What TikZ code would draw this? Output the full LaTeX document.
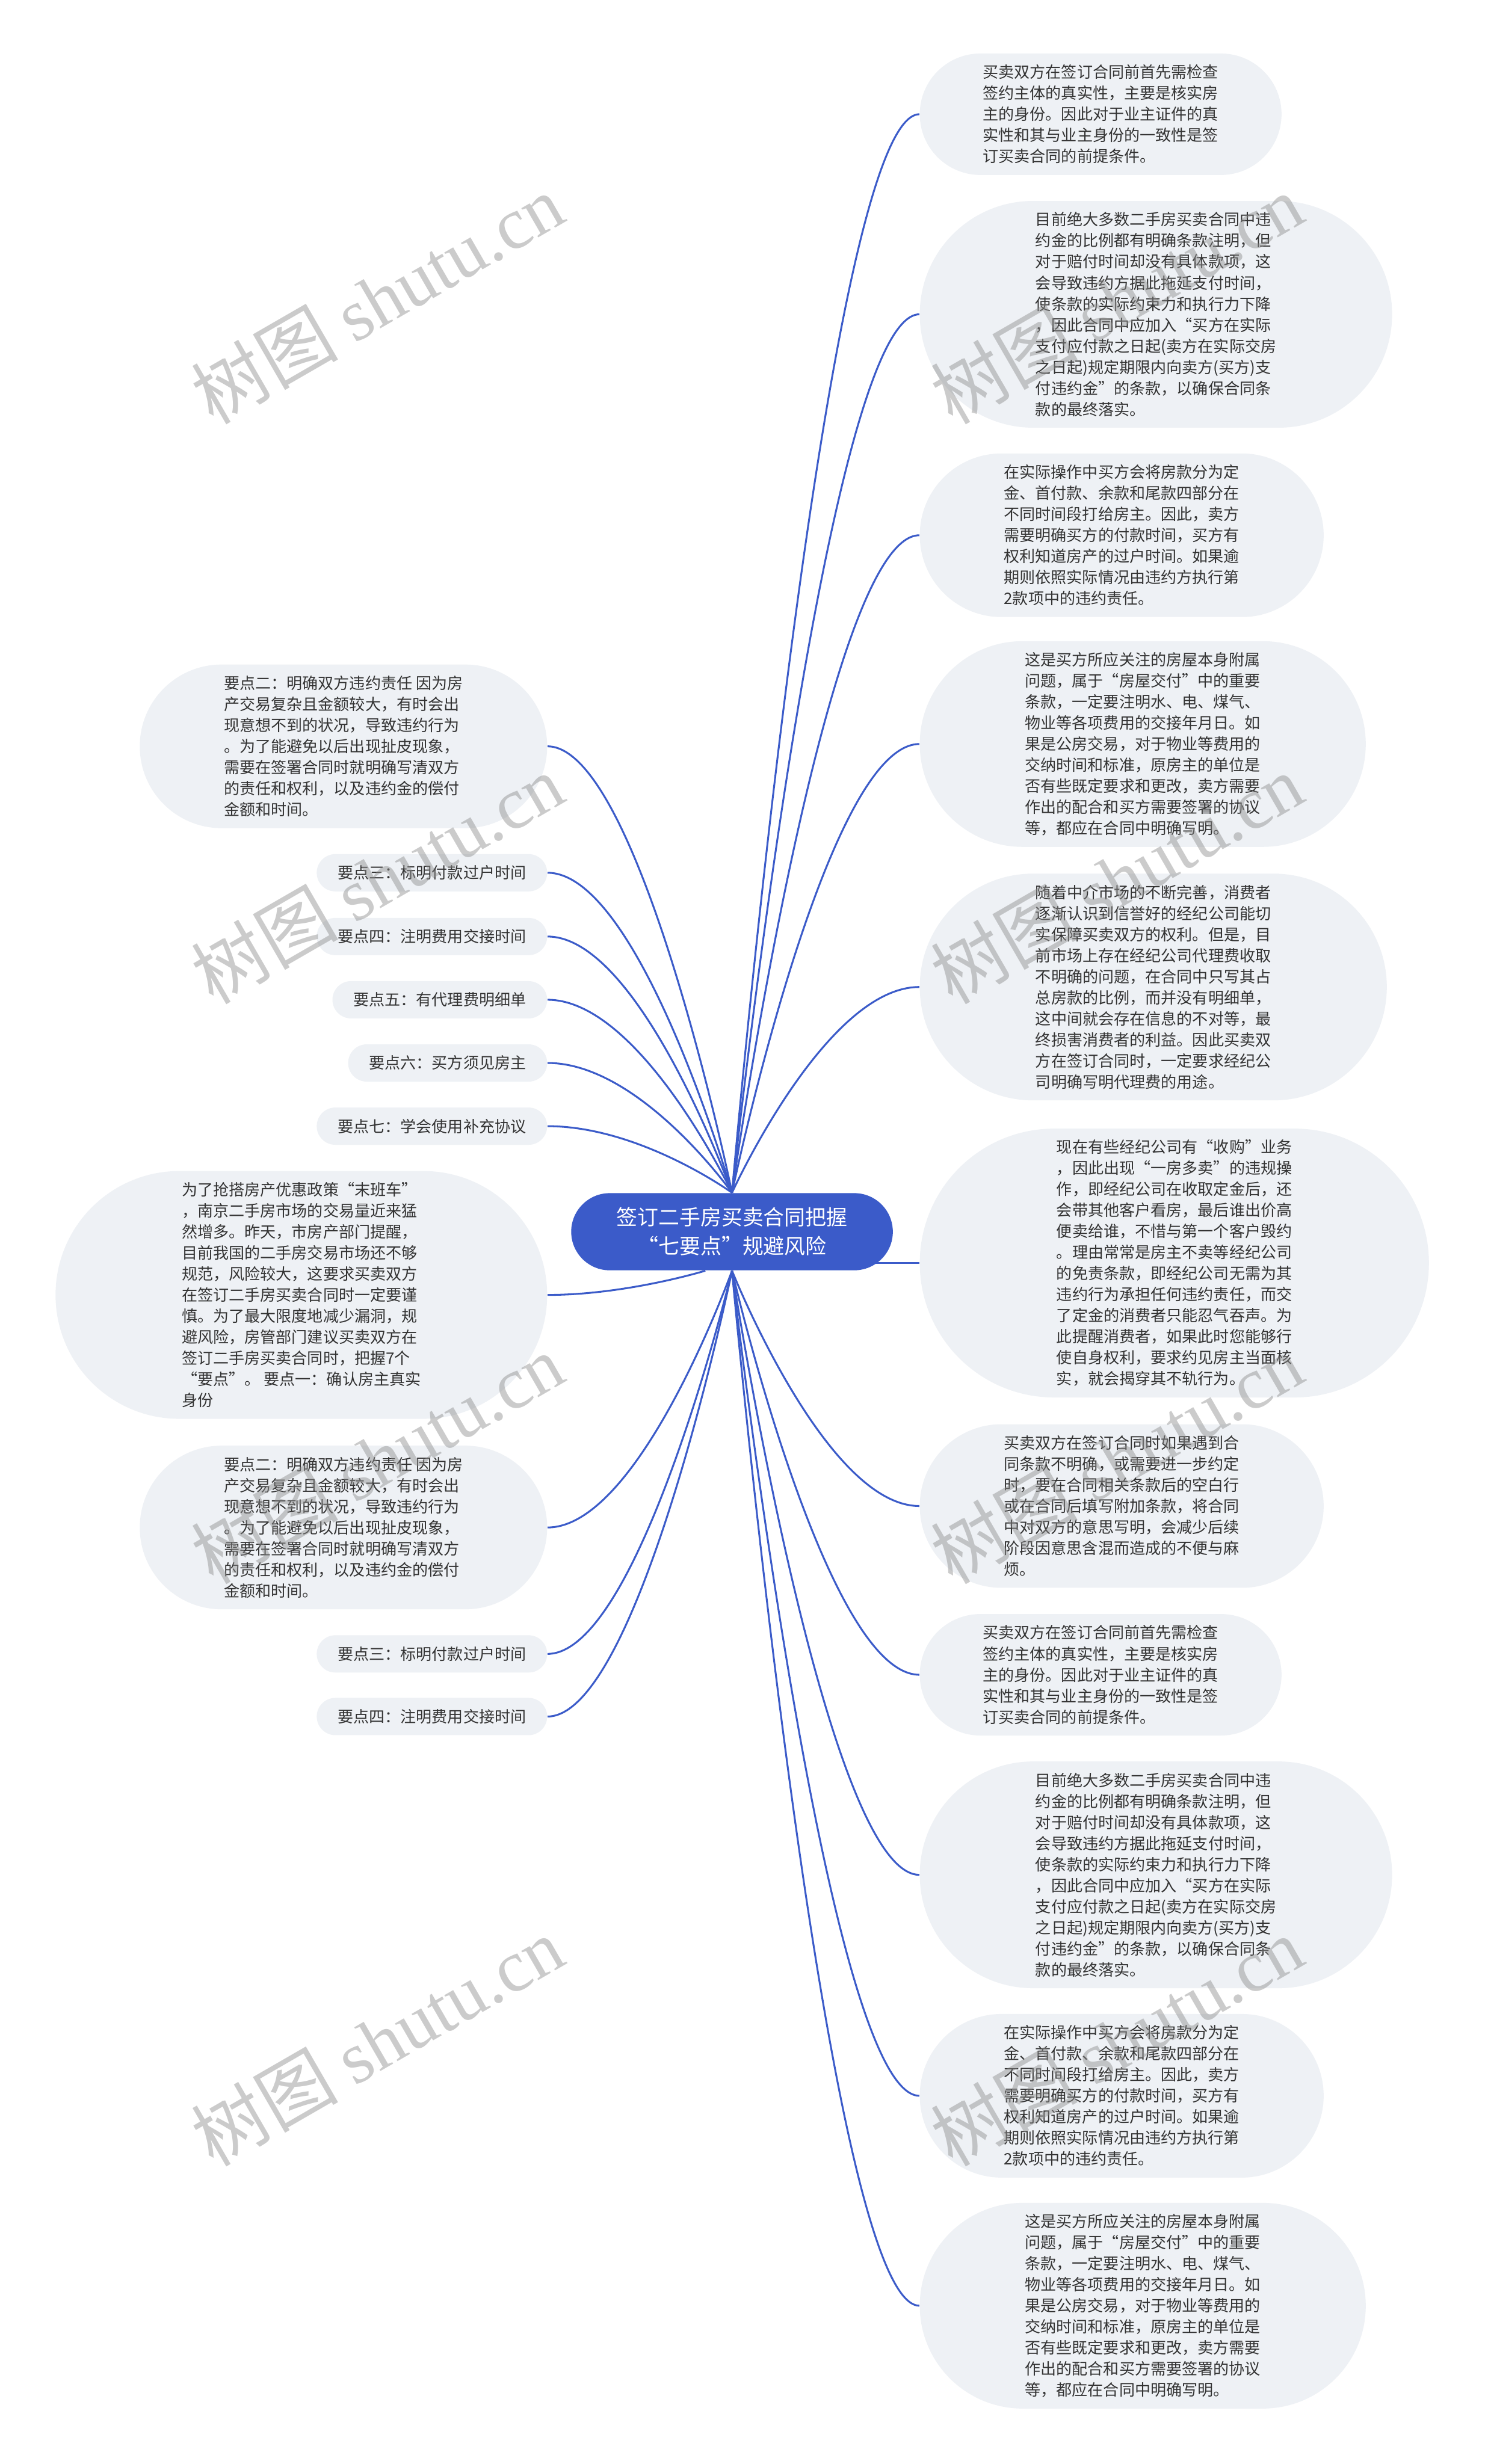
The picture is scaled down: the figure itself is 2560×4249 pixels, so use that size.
\documentclass[tikz,border=0pt]{standalone}
\usepackage{fontspec}
\setmainfont{Noto Sans CJK SC}
\newfontfamily\wmlatin{Liberation Serif}
\usetikzlibrary{positioning, calc}

\definecolor{hub}{HTML}{3B5BC9}
\definecolor{bubblefill}{HTML}{EEF1F5}
\definecolor{ink}{HTML}{333333}

\pgfdeclarelayer{paper}
\pgfdeclarelayer{links}
\pgfsetlayers{paper,links,main}

% texts that appear twice
\newcommand{\TxtCheck}{买卖双方在签订合同前首先需检查\\签约主体的真实性，主要是核实房\\主的身份。因此对于业主证件的真\\实性和其与业主身份的一致性是签\\订买卖合同的前提条件。}
\newcommand{\TxtPenalty}{目前绝大多数二手房买卖合同中违\\约金的比例都有明确条款注明，但\\对于赔付时间却没有具体款项，这\\会导致违约方据此拖延支付时间，\\使条款的实际约束力和执行力下降\\，因此合同中应加入“买方在实际\\支付应付款之日起(卖方在实际交房\\之日起)规定期限内向卖方(买方)支\\付违约金”的条款，以确保合同条\\款的最终落实。}
\newcommand{\TxtPay}{在实际操作中买方会将房款分为定\\金、首付款、余款和尾款四部分在\\不同时间段打给房主。因此，卖方\\需要明确买方的付款时间，买方有\\权利知道房产的过户时间。如果逾\\期则依照实际情况由违约方执行第\\2款项中的违约责任。}
\newcommand{\TxtHandover}{这是买方所应关注的房屋本身附属\\问题，属于“房屋交付”中的重要\\条款，一定要注明水、电、煤气、\\物业等各项费用的交接年月日。如\\果是公房交易，对于物业等费用的\\交纳时间和标准，原房主的单位是\\否有些既定要求和更改，卖方需要\\作出的配合和买方需要签署的协议\\等，都应在合同中明确写明。}
\newcommand{\TxtDuty}{要点二：明确双方违约责任 因为房\\产交易复杂且金额较大，有时会出\\现意想不到的状况，导致违约行为\\。为了能避免以后出现扯皮现象，\\需要在签署合同时就明确写清双方\\的责任和权利，以及违约金的偿付\\金额和时间。}

\begin{document}
\begin{tikzpicture}[
    x=0.01cm, y=-0.01cm,
    topic/.style={rectangle, fill=hub, text=white, align=center,
        font=\fontsize{10.3pt}{14.2pt}\selectfont, rounded corners=0.665cm,
        minimum height=1.33cm, inner xsep=0.78cm, inner ysep=0pt},
    % #1 = number of text lines
    bubble/.style={rectangle, fill=bubblefill, text=ink, align=left,
        font=\fontsize{7.7pt}{10.33pt}\selectfont,
        rounded corners=(18.15*#1+14)*0.01cm,
        minimum height=(36.3*#1+28)*0.01cm,
        inner xsep=(18.15*#1+18)*0.01cm, inner ysep=0pt},
    link/.style={draw=hub, line width=0.9pt},
    wmark/.style={rotate=30, text=black!45, opacity=0.45,
        font=\fontsize{36pt}{40pt}\selectfont}
]
\begin{pgfonlayer}{paper}
\useasboundingbox[fill=white] (0,0) rectangle (2560,4249);
\end{pgfonlayer}

\node[topic] (C) at (1262,2124) {签订二手房买卖合同把握\\“七要点”规避风险};

% right side
\node[bubble=5, anchor=west] (r1) at (1585,197) {\TxtCheck};
\node[bubble=10, anchor=west] (r2) at (1585,542) {\TxtPenalty};
\node[bubble=7, anchor=west] (r3) at (1585,923) {\TxtPay};
\node[bubble=9, anchor=west] (r4) at (1585,1283) {\TxtHandover};
\node[bubble=10, anchor=west] (r5) at (1585,1702) {随着中介市场的不断完善，消费者\\逐渐认识到信誉好的经纪公司能切\\实保障买卖双方的权利。但是，目\\前市场上存在经纪公司代理费收取\\不明确的问题，在合同中只写其占\\总房款的比例，而并没有明细单，\\这中间就会存在信息的不对等，最\\终损害消费者的利益。因此买卖双\\方在签订合同时，一定要求经纪公\\司明确写明代理费的用途。};
\node[bubble=12, anchor=west] (r6) at (1585,2178) {现在有些经纪公司有“收购”业务\\，因此出现“一房多卖”的违规操\\作，即经纪公司在收取定金后，还\\会带其他客户看房，最后谁出价高\\便卖给谁，不惜与第一个客户毁约\\。理由常常是房主不卖等经纪公司\\的免责条款，即经纪公司无需为其\\违约行为承担任何违约责任，而交\\了定金的消费者只能忍气吞声。为\\此提醒消费者，如果此时您能够行\\使自身权利，要求约见房主当面核\\实，就会揭穿其不轨行为。};
\node[bubble=7, anchor=west] (r7) at (1585,2597) {买卖双方在签订合同时如果遇到合\\同条款不明确，或需要进一步约定\\时，要在合同相关条款后的空白行\\或在合同后填写附加条款，将合同\\中对双方的意思写明，会减少后续\\阶段因意思含混而造成的不便与麻\\烦。};
\node[bubble=5, anchor=west] (r8) at (1585,2888) {\TxtCheck};
\node[bubble=10, anchor=west] (r9) at (1585,3233) {\TxtPenalty};
\node[bubble=7, anchor=west] (r10) at (1585,3614) {\TxtPay};
\node[bubble=9, anchor=west] (r11) at (1585,3976) {\TxtHandover};

% left side
\node[bubble=7, anchor=east] (l1) at (944,1287) {\TxtDuty};
\node[bubble=1, anchor=east] (l2) at (944,1505) {要点三：标明付款过户时间};
\node[bubble=1, anchor=east] (l3) at (944,1615) {要点四：注明费用交接时间};
\node[bubble=1, anchor=east] (l4) at (944,1724) {要点五：有代理费明细单};
\node[bubble=1, anchor=east] (l5) at (944,1833) {要点六：买方须见房主};
\node[bubble=1, anchor=east] (l6) at (944,1942) {要点七：学会使用补充协议};
\node[bubble=11, anchor=east] (l7) at (944,2233) {为了抢搭房产优惠政策“末班车”\\，南京二手房市场的交易量近来猛\\然增多。昨天，市房产部门提醒，\\目前我国的二手房交易市场还不够\\规范，风险较大，这要求买卖双方\\在签订二手房买卖合同时一定要谨\\慎。为了最大限度地减少漏洞，规\\避风险，房管部门建议买卖双方在\\签订二手房买卖合同时，把握7个\\“要点”。 要点一：确认房主真实\\身份};
\node[bubble=7, anchor=east] (l8) at (944,2634) {\TxtDuty};
\node[bubble=1, anchor=east] (l9) at (944,2852) {要点三：标明付款过户时间};
\node[bubble=1, anchor=east] (l10) at (944,2960) {要点四：注明费用交接时间};

\coordinate (Cb) at ([xshift=-0.46cm]C.south);

\begin{pgfonlayer}{links}
\foreach \n in {r1,r2,r3,r4,r5}
  \draw[link] (\n.west) .. controls ($(\n.west)!.5!(C.north |- \n.west)$) and (C.north) .. (C.north);
\foreach \n in {r7,r8,r9,r10,r11}
  \draw[link] (\n.west) .. controls ($(\n.west)!.5!(C.south |- \n.west)$) and (C.south) .. (C.south);
\draw[link] (r6.west) -- (r6.west -| C.center);
\foreach \n in {l1,l2,l3,l4,l5,l6}
  \draw[link] (\n.east) .. controls ($(\n.east)!.5!(C.north |- \n.east)$) and (C.north) .. (C.north);
\foreach \n in {l8,l9,l10}
  \draw[link] (\n.east) .. controls ($(\n.east)!.5!(C.south |- \n.east)$) and (C.south) .. (C.south);
\draw[link] (l7.east) .. controls ($(l7.east)!.5!(Cb |- l7.east)$) and (Cb) .. (Cb);
\end{pgfonlayer}

% watermark
\foreach \wx in {650,1925}
  \foreach \wy in {515,1515,2515,3520}
    \node[wmark] at (\wx,\wy) {树图 {\wmlatin shutu.cn}};

\end{tikzpicture}
\end{document}
